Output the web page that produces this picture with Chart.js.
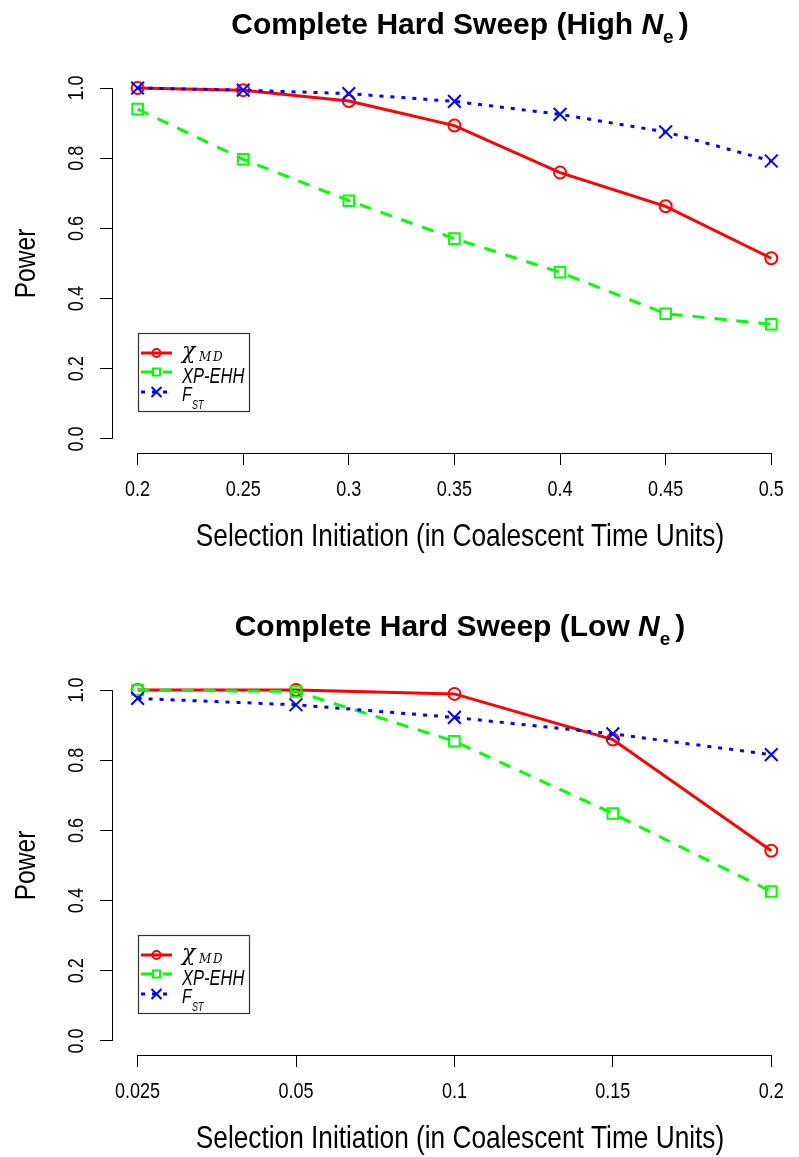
<!DOCTYPE html>
<html>
<head>
<meta charset="utf-8">
<title>Complete Hard Sweep</title>
<script src="https://cdn.jsdelivr.net/npm/chart.js@4.4.3/dist/chart.umd.min.js"></script>
<style>
  html, body { margin: 0; padding: 0; background: #fff; overflow: hidden; }
  .panel { width: 799px; height: 602px; }
</style>
</head>
<body>
<div class="panel"><canvas id="high" width="799" height="602"></canvas></div>
<div class="panel"><canvas id="low" width="799" height="602"></canvas></div>
<script>

// High Ne panel
const highLabels = ['0.2', '0.25', '0.3', '0.35', '0.4', '0.45', '0.5']
const highChi = [1.0, 0.994, 0.963, 0.893, 0.759, 0.663, 0.515]
const highXpehh = [0.940, 0.797, 0.679, 0.571, 0.475, 0.357, 0.327]
const highFst = [1.0, 0.994, 0.984, 0.962, 0.925, 0.875, 0.792]

// Low Ne panel
const lowLabels = ['0.025', '0.05', '0.1', '0.15', '0.2']
const lowChi = [1.0, 1.0, 0.989, 0.859, 0.542]
const lowXpehh = [1.0, 0.996, 0.854, 0.648, 0.426]
const lowFst = [0.976, 0.958, 0.922, 0.875, 0.816]

const powerTicks = [0, 0.2, 0.4, 0.6, 0.8, 1.0]

const xTitle = 'Selection Initiation (in Coalescent Time Units)'
const yTitle = 'Power'

// Plot region, same for both panels.
const W = 799, H = 602
const PLOT_LEFT = 112, PLOT_TOP = 74, PLOT_BOTTOM = 453
const FIRST_X = 138, LAST_X = 782

const SANS = '"Liberation Sans", Arial, sans-serif'
const SERIF = '"DejaVu Serif", "Liberation Serif", serif'

// Glyph width factor to get the narrow Helvetica look.
const NARROW = 0.82

const RED = '#ff0000', GREEN = '#00ff00', BLUE = '#0000ff'

const series = [
  { color: RED, dash: [], pointStyle: 'circle', radius: 6, legendRadius: 4, order: 3 },
  { color: GREEN, dash: [12, 10], pointStyle: 'rect', radius: 7.5, legendRadius: 5, order: 2 },
  { color: BLUE, dash: [4, 7], pointStyle: 'crossRot', radius: 9, legendRadius: 7, order: 1 }
]

// Centred text, squeezed along its own baseline, optionally rotated.
function narrowText(ctx, text, font, x, y, opt = {}) {
  ctx.save()
  ctx.font = font
  ctx.textAlign = opt.align || 'center'
  ctx.textBaseline = opt.baseline || 'middle'
  ctx.translate(x, y)
  if (opt.rotate) ctx.rotate(opt.rotate)
  ctx.scale(opt.squeeze || NARROW, 1)
  ctx.fillText(text, 0, 0)
  ctx.restore()
}

// Axes drawn the R way: the axis line only spans the first to the last tick.
const rAxes = {
  id: 'rAxes',
  afterDraw(chart, args, opts) {

    const { ctx, chartArea, scales: { x, y } } = chart

    ctx.save()
    ctx.strokeStyle = '#000'
    ctx.fillStyle = '#000'
    ctx.lineWidth = 1

    ctx.beginPath()
    ctx.moveTo(chartArea.left + 0.5, y.getPixelForValue(0))
    ctx.lineTo(chartArea.left + 0.5, y.getPixelForValue(1))
    ctx.moveTo(x.getPixelForValue(0), chartArea.bottom + 0.5)
    ctx.lineTo(x.getPixelForValue(opts.labels.length - 1), chartArea.bottom + 0.5)
    ctx.stroke()

    const tickFont = `22px ${SANS}`

    x.ticks.forEach((t, i) => {
      narrowText(ctx, opts.labels[i], tickFont, x.getPixelForValue(t.value), 490)
    })

    powerTicks.forEach(v => {
      narrowText(ctx, v.toFixed(1), tickFont, 77, y.getPixelForValue(v), { rotate: -Math.PI / 2 })
    })

    narrowText(ctx, xTitle, `32px ${SANS}`, (FIRST_X + LAST_X) / 2, 537)
    narrowText(ctx, yTitle, `30px ${SANS}`, 27, (chartArea.top + chartArea.bottom) / 2, { rotate: -Math.PI / 2 })

    drawTitle(ctx, opts.title, (FIRST_X + LAST_X) / 2, 34)
    drawLegend(ctx)

    ctx.restore()
  }
}

function drawTitle(ctx, parts, cx, baseline) {

  ctx.textAlign = 'left'
  ctx.textBaseline = 'alphabetic'

  let width = 0
  parts.forEach(p => {
    ctx.font = p.font
    width += ctx.measureText(p.text).width + (p.gap || 0)
  })

  let pos = cx - width / 2
  parts.forEach(p => {
    ctx.font = p.font
    ctx.fillText(p.text, pos, baseline + (p.dy || 0))
    pos += ctx.measureText(p.text).width + (p.gap || 0)
  })
}

function drawLegend(ctx) {

  ctx.save()
  ctx.strokeStyle = '#333'
  ctx.lineWidth = 1.2
  ctx.strokeRect(138.5, 333.5, 111, 78)

  const rows = [353, 372, 392]

  series.forEach((s, i) => {
    ctx.strokeStyle = s.color
    ctx.fillStyle = 'rgba(0,0,0,0)'
    ctx.lineWidth = 3
    ctx.setLineDash(s.dash)
    ctx.beginPath()
    ctx.moveTo(141, rows[i])
    ctx.lineTo(172, rows[i])
    ctx.stroke()
    ctx.setLineDash([])
    ctx.lineWidth = 2
    Chart.helpers.drawPoint(ctx, { pointStyle: s.pointStyle, radius: s.legendRadius, rotation: 0, borderWidth: 2 }, 156.5, rows[i])
  })

  ctx.fillStyle = '#000'
  ctx.textAlign = 'left'
  ctx.textBaseline = 'alphabetic'

  ctx.font = `italic 22px ${SERIF}`
  ctx.fillText('χ', 182, 358)
  ctx.font = `italic 12px ${SERIF}`
  ctx.fillText('M', 199, 361)
  ctx.fillText('D', 213, 361)

  const left = { align: 'left', baseline: 'alphabetic', squeeze: 0.75 }
  narrowText(ctx, 'XP-EHH', `italic 22px ${SANS}`, 182, 383, left)
  narrowText(ctx, 'F', `italic 21px ${SANS}`, 182, 401, left)
  narrowText(ctx, 'ST', `italic 12px ${SANS}`, 192, 409, left)

  ctx.restore()
}

function datasets(chi, xpehh, fst) {

  return [chi, xpehh, fst].map((values, i) => ({
    data: values.map((v, j) => ({ x: j, y: v })),
    borderColor: series[i].color,
    borderWidth: 3,
    borderDash: series[i].dash,
    pointStyle: series[i].pointStyle,
    pointRadius: series[i].radius,
    pointBorderWidth: 2,
    pointBorderColor: series[i].color,
    pointBackgroundColor: 'rgba(0,0,0,0)',
    order: series[i].order,
    tension: 0,
    clip: false
  }))
}

function create(id, labels, chi, xpehh, fst, title) {

  const n = labels.length
  const perUnit = (LAST_X - FIRST_X) / (n - 1)

  // x range keeps R's 4% extension on the left, cut at the canvas edge on the right.
  const xMin = -(FIRST_X - PLOT_LEFT) / perUnit
  const xMax = (n - 1) + (W - LAST_X) / perUnit

  return new Chart(document.getElementById(id), {
    type: 'line',
    data: { datasets: datasets(chi, xpehh, fst) },
    plugins: [rAxes],
    options: {
      responsive: false,
      animation: false,
      events: [],
      layout: { padding: { top: PLOT_TOP, left: 0, right: 0, bottom: 0 } },
      plugins: {
        legend: { display: false },
        tooltip: { enabled: false },
        rAxes: { labels, title }
      },
      scales: {
        x: {
          type: 'linear',
          min: xMin,
          max: xMax,
          afterBuildTicks: s => { s.ticks = labels.map((l, i) => ({ value: i })) },
          afterFit: s => { s.height = H - PLOT_BOTTOM },
          border: { display: false },
          grid: { drawOnChartArea: false, drawTicks: true, tickLength: 12, color: '#000', lineWidth: 1 },
          ticks: { display: false }
        },
        y: {
          type: 'linear',
          min: -0.04,
          max: 1.04,
          afterBuildTicks: s => { s.ticks = powerTicks.map(v => ({ value: v })) },
          afterFit: s => { s.width = PLOT_LEFT },
          border: { display: false },
          grid: { drawOnChartArea: false, drawTicks: true, tickLength: 12, color: '#000', lineWidth: 1 },
          ticks: { display: false }
        }
      }
    }
  })
}

const bold = `bold 30px ${SANS}`

create('high', highLabels, highChi, highXpehh, highFst, [
  { text: 'Complete Hard Sweep (High ', font: bold },
  { text: 'N', font: `italic ${bold}` },
  { text: 'e', font: `bold 19px ${SANS}`, dy: 9, gap: 5 },
  { text: ')', font: bold }
])

create('low', lowLabels, lowChi, lowXpehh, lowFst, [
  { text: 'Complete Hard Sweep (Low ', font: bold },
  { text: 'N', font: `italic ${bold}` },
  { text: 'e', font: `bold 19px ${SANS}`, dy: 9, gap: 5 },
  { text: ')', font: bold }
])
</script>
</body>
</html>
